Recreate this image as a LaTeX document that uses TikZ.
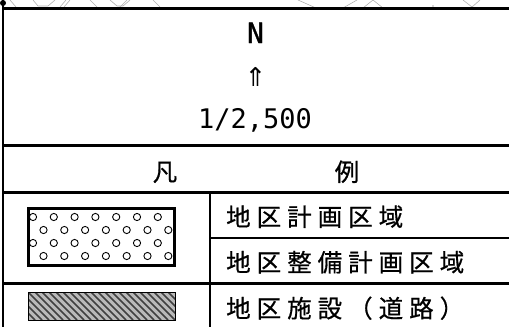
\documentclass[tikz,border=0pt]{standalone}
\usepackage{fontspec}
\newfontfamily\jp[FakeBold=0.6]{Noto Sans CJK JP}
\newfontfamily\mono{DejaVu Sans Mono}
\newfontfamily\monob[FakeBold=1.2]{DejaVu Sans Mono}
\newfontfamily\dv{DejaVu Sans}
\newdimen\trkamt \trkamt=6bp
\newcommand\trk[1]{\trkloop#1\relax}
\def\trkloop#1{\ifx\relax#1\else#1\kern\trkamt\expandafter\trkloop\fi}
\tikzset{
  rule/.style={line width=3bp, black},
  thinrule/.style={line width=2.5bp, black},
  maplines/.style={gray!60, line width=0.6bp},
  jtext/.style={inner sep=0pt, anchor=base west, font=\jp\fontsize{24.5bp}{25bp}\selectfont},
  jhead/.style={inner sep=0pt, anchor=base, font=\jp\fontsize{24.5bp}{25bp}\selectfont},
}
\begin{document}
\begin{tikzpicture}[x=1bp,y=-1bp]
\useasboundingbox (0,0) rectangle (509,327);
\fill[white] (0,0) rectangle (509,327);
% faint background map lines above the legend
\draw[maplines] (10,0)--(16,7);
\draw[maplines] (33,0)--(38,6)--(48,6)--(55,0);
\draw[maplines] (60,7)--(66,0) (64,7)--(70,0);
\draw[maplines] (90,0)--(97,7);
\draw[maplines] (110,0)--(117,6)--(123,6)--(130,0) (120,7)--(127,0);
\draw[maplines] (153,0)--(160,7);
\draw[maplines] (298,0)--(316,8);
\draw[maplines] (343,8)--(357,0);
\draw[maplines] (363,8)--(373,0)--(383,8);
\draw[maplines] (463,0)--(472,7)--(480,0);
\fill[gray!60] (433,6) circle (0.8);
% table rules
\draw[rule] (3,8) -- (509,8);
\draw[thinrule] (3,0) -- (3,327);
\fill (3,3) circle (3);
\draw[rule] (3,145) -- (509,145);
\draw[rule] (3,192) -- (509,192);
\draw[thinrule] (210,192) -- (210,327);
\draw[line width=2.5bp] (210,238) -- (509,238);
\draw[rule] (3,283) -- (509,283);
% north arrow and scale
\node[inner sep=0pt, anchor=base, font=\monob\fontsize{28bp}{28bp}\selectfont] (north) at (255.5,43) {N};
\node[inner sep=0pt, anchor=center, font=\dv\fontsize{26bp}{26bp}\selectfont] (arrow) at (255.5,77) {⇑};
\node[inner sep=0pt, anchor=base, font=\mono\fontsize{27bp}{27bp}\selectfont] (scale) at (255,128) {1/2,500};
% header
\node[jhead] (han) at (165,181) {凡};
\node[jhead] (rei) at (347,181) {例};
% dotted box
\begin{scope}
\clip (27,207) rectangle (176,267);
\foreach \y in {217,243} {
  \foreach \k in {0,...,6} { \draw[line width=0.9bp] (33+20.8*\k,\y) circle (3.6); }
}
\foreach \y in {230,256} {
  \foreach \k in {0,...,6} { \draw[line width=0.9bp] (43.5+20.8*\k,\y) circle (3.6); }
}
\end{scope}
\draw[line width=2.8bp] (28.4,208.4) rectangle (174.6,265.6);
% hatched box
\fill[gray!55] (28,292) rectangle (175,320);
\begin{scope}
\clip (28,292) rectangle (175,320);
\foreach \i in {-35,-28,...,180} { \draw[black!75, line width=1.6bp] (\i,292) -- (\i+28,320); }
\end{scope}
\draw[line width=1bp] (28,292) rectangle (175,320);
% labels
\node[jtext] (l1) at (226,226) {\trk{地区計画区域}};
\node[jtext] (l2) at (226,271.5) {\trk{地区整備計画区域}};
\node[jtext] (l3) at (226,317.5) {\trk{地区施設（道路）}};
\end{tikzpicture}
\end{document}
